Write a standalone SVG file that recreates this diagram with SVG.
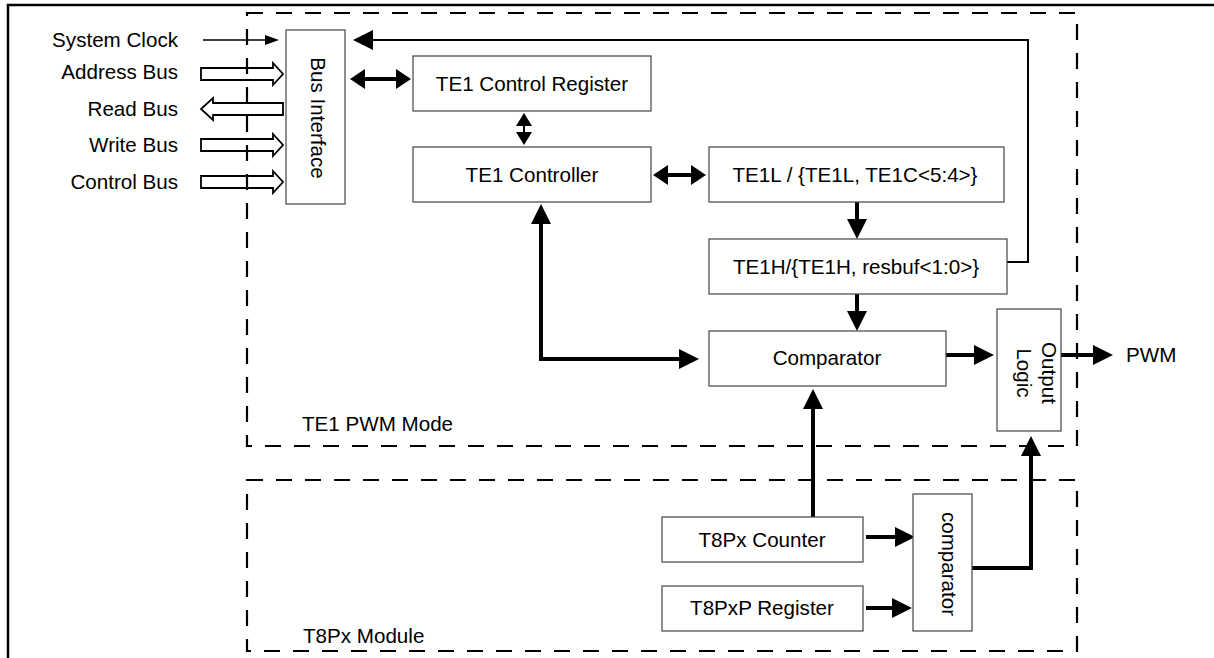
<svg xmlns="http://www.w3.org/2000/svg" width="1214" height="658" viewBox="0 0 1214 658">
  <style>
    text { font-family: "Liberation Sans", Arial, sans-serif; font-size: 20.6px; fill: #000; }
    .mid { text-anchor: middle; }
    .end { text-anchor: end; }
    .box { fill: #fff; stroke: #444; stroke-width: 1.2; }
    .frame { fill: none; stroke: #000; stroke-width: 2.5; }
    .module { fill: none; stroke: #000; stroke-width: 2.2; stroke-dasharray: 16 13; }
    .thick { fill: none; stroke: #000; stroke-width: 4; }
    .wire { fill: none; stroke: #000; stroke-width: 2; }
    .thin { fill: none; stroke: #000; stroke-width: 1.5; }
    .bus { fill: none; stroke: #000; stroke-width: 1.8; stroke-linejoin: miter; }
  </style>
  <defs>
    <marker id="ah-big" markerUnits="userSpaceOnUse" viewBox="0 -10 20 20" refX="1" refY="0" markerWidth="20" markerHeight="20" orient="auto-start-reverse">
      <path d="M0,-10 L20,0 L0,10 Z" fill="#000"/>
    </marker>
    <marker id="ah-mid" markerUnits="userSpaceOnUse" viewBox="0 -10 15 20" refX="1" refY="0" markerWidth="15" markerHeight="20" orient="auto-start-reverse">
      <path d="M0,-10 L15,0 L0,10 Z" fill="#000"/>
    </marker>
    <marker id="ah-small" markerUnits="userSpaceOnUse" viewBox="0 -8 13 16" refX="1" refY="0" markerWidth="13" markerHeight="16" orient="auto-start-reverse">
      <path d="M0,-8 L13,0 L0,8 Z" fill="#000"/>
    </marker>
    <marker id="ah-thin" markerUnits="userSpaceOnUse" viewBox="0 -5 14 10" refX="1" refY="0" markerWidth="14" markerHeight="10" orient="auto">
      <path d="M0,-5 L14,0 L0,5 Z" fill="#000"/>
    </marker>
  </defs>

  <rect width="1214" height="658" fill="#fff"/>

  <!-- outer frame (top and left edges) -->
  <path class="frame" d="M8,658 V5 H1214"/>

  <!-- external signals -->
  <g id="inputs">
    <text class="end" x="178" y="47">System Clock</text>
    <text class="end" x="178" y="79">Address Bus</text>
    <text class="end" x="178" y="116">Read Bus</text>
    <text class="end" x="178" y="152">Write Bus</text>
    <text class="end" x="178" y="189">Control Bus</text>
    <path class="bus" d="M201,68 H273 V63 L283,74 L273,85 V80 H201 Z"/>
    <path class="bus" d="M283,103 H213 V98 L201,109 L213,120 V115 H283 Z"/>
    <path class="bus" d="M201,139 H273 V134 L283,145 L273,156 V151 H201 Z"/>
    <path class="bus" d="M201,176 H273 V171 L283,182 L273,193 V188 H201 Z"/>
  </g>

  <!-- connectors -->
  <g id="connectors">
    <line class="thin" x1="203" y1="40" x2="266" y2="40" marker-end="url(#ah-thin)"/>
    <path class="wire" d="M1007,262 H1028 V40 H372" marker-end="url(#ah-big)"/>
    <line class="thick" x1="364" y1="79" x2="397" y2="79" marker-start="url(#ah-mid)" marker-end="url(#ah-mid)"/>
    <line class="wire" x1="524" y1="125" x2="524" y2="133" marker-start="url(#ah-small)" marker-end="url(#ah-small)"/>
    <line class="thick" x1="667" y1="175" x2="692" y2="175" marker-start="url(#ah-mid)" marker-end="url(#ah-mid)"/>
    <line class="thick" x1="857" y1="202" x2="857" y2="220" marker-end="url(#ah-big)"/>
    <line class="thick" x1="857" y1="294" x2="857" y2="312" marker-end="url(#ah-big)"/>
    <path class="thick" d="M541,223 V359 H680" marker-start="url(#ah-big)" marker-end="url(#ah-big)"/>
    <line class="thick" x1="946" y1="355" x2="975" y2="355" marker-end="url(#ah-big)"/>
    <line class="thick" x1="1061" y1="355" x2="1094" y2="355" marker-end="url(#ah-big)"/>
    <line class="thick" x1="813" y1="517" x2="813" y2="408" marker-end="url(#ah-big)"/>
    <line class="thick" x1="866" y1="537" x2="896" y2="537" marker-end="url(#ah-big)"/>
    <line class="thick" x1="866" y1="608" x2="893" y2="608" marker-end="url(#ah-big)"/>
    <path class="thick" d="M972,568 H1031 V455" marker-end="url(#ah-big)"/>
  </g>

  <!-- module boundaries -->
  <g id="te1-pwm-mode">
    <rect class="module" x="247" y="13" width="830" height="433"/>
    <text x="302" y="431">TE1 PWM Mode</text>
  </g>
  <g id="t8px-module">
    <rect class="module" x="247" y="480" width="830" height="171"/>
    <text x="303" y="643">T8Px Module</text>
  </g>

  <g id="bus-interface">
    <rect class="box" x="286" y="30" width="59" height="174"/>
    <text class="mid" transform="translate(310.5,118) rotate(90)" x="0" y="0">Bus Interface</text>
  </g>
  <g id="te1-control-register">
    <rect class="box" x="413" y="56" width="238" height="55"/>
    <text class="mid" x="532" y="91">TE1 Control Register</text>
  </g>
  <g id="te1-controller">
    <rect class="box" x="413" y="147" width="238" height="55"/>
    <text class="mid" x="532" y="182">TE1 Controller</text>
  </g>
  <g id="te1l">
    <rect class="box" x="709" y="147" width="295" height="55"/>
    <text class="mid" x="855" y="182">TE1L / {TE1L, TE1C&lt;5:4&gt;}</text>
  </g>
  <g id="te1h">
    <rect class="box" x="709" y="239" width="298" height="55"/>
    <text class="mid" x="856" y="274">TE1H/{TE1H, resbuf&lt;1:0&gt;}</text>
  </g>
  <g id="comparator-main">
    <rect class="box" x="709" y="331" width="237" height="55"/>
    <text class="mid" x="827" y="365">Comparator</text>
  </g>
  <g id="output-logic">
    <rect class="box" x="997" y="309" width="64" height="122"/>
    <g transform="translate(1029,373) rotate(90)">
      <text class="mid" x="0" y="-13">Output</text>
      <text class="mid" x="0" y="12">Logic</text>
    </g>
  </g>
  <g id="pwm-out">
    <text x="1126" y="362">PWM</text>
  </g>
  <g id="t8px-counter">
    <rect class="box" x="662" y="517" width="201" height="45"/>
    <text class="mid" x="762" y="547">T8Px Counter</text>
  </g>
  <g id="t8pxp-register">
    <rect class="box" x="662" y="586" width="201" height="45"/>
    <text class="mid" x="762" y="615">T8PxP Register</text>
  </g>
  <g id="comparator-t8">
    <rect class="box" x="913" y="494" width="59" height="137"/>
    <text class="mid" transform="translate(942,564) rotate(90)" x="0" y="0">comparator</text>
  </g>
</svg>
